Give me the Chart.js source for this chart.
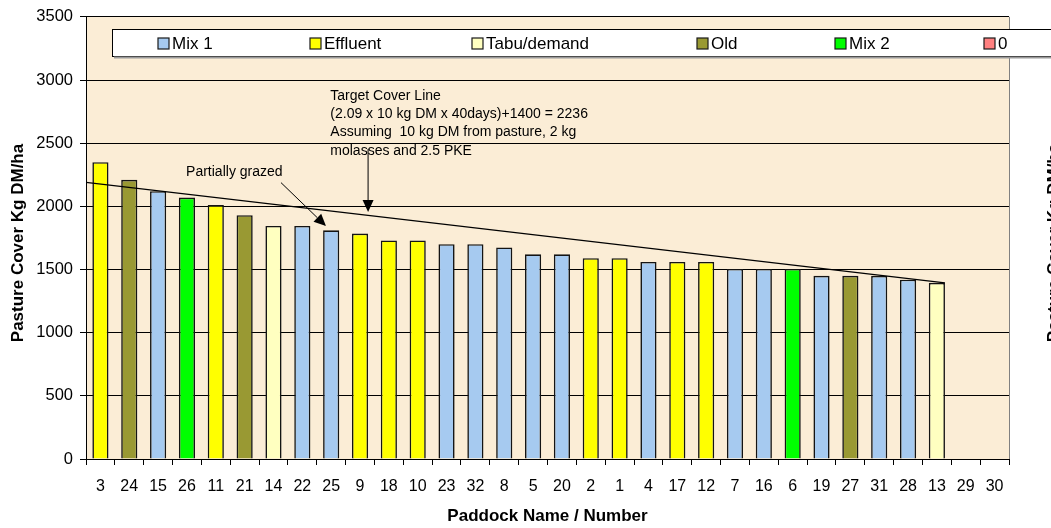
<!DOCTYPE html>
<html>
<head>
<meta charset="utf-8">
<script src="https://cdn.jsdelivr.net/npm/chart.js@4"></script>
<style>
    body { margin: 0; background: #ffffff; }
    #wrap { width: 1051px; height: 528px; }
</style>
</head>
<body>
<div id="wrap"><canvas id="coverChart" width="1051" height="528"></canvas></div>
<script>
// Paddocks, ranked by pasture cover
const paddocks = ['3', '24', '15', '26', '11', '21', '14', '22', '25', '9', '18', '10', '23', '32', '8', '5',
    '20', '2', '1', '4', '17', '12', '7', '16', '6', '19', '27', '31', '28', '13', '29', '30'];
const cover = [2350, 2210, 2120, 2070, 2010, 1930, 1845, 1845, 1810, 1785, 1730, 1730, 1700, 1700, 1675, 1620,
    1620, 1590, 1590, 1560, 1560, 1560, 1505, 1505, 1505, 1450, 1450, 1450, 1420, 1395, null, null];
const paddockGroup = ['Effluent', 'Old', 'Mix 1', 'Mix 2', 'Effluent', 'Old', 'Tabu/demand', 'Mix 1', 'Mix 1',
    'Effluent', 'Effluent', 'Effluent', 'Mix 1', 'Mix 1', 'Mix 1', 'Mix 1', 'Mix 1', 'Effluent', 'Effluent',
    'Mix 1', 'Effluent', 'Effluent', 'Mix 1', 'Mix 1', 'Mix 2', 'Mix 1', 'Old', 'Mix 1', 'Mix 1', 'Tabu/demand', '0', '0'];
const groups = ['Mix 1', 'Effluent', 'Tabu/demand', 'Old', 'Mix 2', '0'];

// target cover line, position along the paddock axis and cover value
const targetPos = [0, 29.78];
const targetCover = [2190, 1395];

const yTicks = [0, 500, 1000, 1500, 2000, 2500, 3000, 3500];

const groupColours = ['#a6caf0', '#ffff00', '#ffffc0', '#999933', '#00ff00', '#ff8080'];
const fontName = '"Liberation Sans", Arial, sans-serif';

function colourFor(g) {
    return groupColours[groups.indexOf(g)];
}

var datasets = [{
    label: 'Pasture cover',
    data: cover,
    backgroundColor: paddockGroup.map(colourFor),
    borderColor: '#141414',
    borderWidth: 1.6,
    borderSkipped: 'start',
    grouped: false,
    barPercentage: 0.56,
    categoryPercentage: 1.0,
    order: 2
}, {
    type: 'line',
    label: 'Target',
    xAxisID: 'xl',
    data: targetPos.map(function (p, i) { return { x: p, y: targetCover[i] }; }),
    borderColor: '#000000',
    borderWidth: 1.3,
    pointRadius: 0,
    fill: false,
    order: 1
}];

function arrow(ctx, x1, y1, x2, y2) {
    var ang = Math.atan2(y2 - y1, x2 - x1);
    var len = 12, half = 5.5;
    var bx = x2 - len * Math.cos(ang), by = y2 - len * Math.sin(ang);
    ctx.beginPath();
    ctx.moveTo(x1, y1);
    ctx.lineTo(bx, by);
    ctx.stroke();
    ctx.beginPath();
    ctx.moveTo(x2, y2);
    ctx.lineTo(bx + half * Math.sin(ang), by - half * Math.cos(ang));
    ctx.lineTo(bx - half * Math.sin(ang), by + half * Math.cos(ang));
    ctx.closePath();
    ctx.fill();
}

const paperPlugin = {
    id: 'paper',
    beforeDraw: function (chart) {
        var ctx = chart.ctx, a = chart.chartArea;
        ctx.save();
        ctx.fillStyle = '#ffffff';
        ctx.fillRect(0, 0, chart.width, chart.height);
        ctx.fillStyle = '#fbedd6';
        ctx.fillRect(a.left, a.top, a.right - a.left, a.bottom - a.top);
        ctx.restore();
    },
    afterDraw: function (chart) {
        var ctx = chart.ctx, a = chart.chartArea;
        var xl = chart.scales.xl, y = chart.scales.y;
        ctx.save();

        // plot border, right side
        ctx.strokeStyle = '#808080';
        ctx.lineWidth = 1;
        ctx.beginPath();
        ctx.moveTo(a.right + 0.5, a.top);
        ctx.lineTo(a.right + 0.5, a.bottom);
        ctx.stroke();

        // legend box
        ctx.fillStyle = '#ffffff';
        ctx.fillRect(112, 29.5, 960, 27);
        ctx.strokeStyle = '#000000';
        ctx.strokeRect(112.5, 29.5, 960, 27);
        ctx.strokeStyle = '#9a9a9a';
        ctx.lineWidth = 2;
        ctx.beginPath();
        ctx.moveTo(114, 57.5);
        ctx.lineTo(1060, 57.5);
        ctx.stroke();
        var legendX = [158, 310, 472, 697, 835, 984];
        ctx.font = '17px ' + fontName;
        ctx.textBaseline = 'middle';
        ctx.textAlign = 'left';
        ctx.lineWidth = 1.2;
        groups.forEach(function (g, i) {
            ctx.fillStyle = groupColours[i];
            ctx.fillRect(legendX[i], 38, 11, 11);
            ctx.strokeStyle = '#1a1a1a';
            ctx.strokeRect(legendX[i], 38, 11, 11);
            ctx.fillStyle = '#000000';
            ctx.fillText(g, legendX[i] + 14, 44);
        });

        // annotations
        ctx.fillStyle = '#000000';
        ctx.strokeStyle = '#000000';
        ctx.lineWidth = 1;
        ctx.font = '14px ' + fontName;
        ctx.textBaseline = 'alphabetic';
        ctx.fillText('Partially grazed', xl.getPixelForValue(3.47), y.getPixelForValue(2244));
        arrow(ctx, xl.getPixelForValue(6.76), y.getPixelForValue(2188),
            xl.getPixelForValue(8.32), y.getPixelForValue(1844));

        var noteLines = ['Target Cover Line', '(2.09 x 10 kg DM x 40days)+1400 = 2236',
            'Assuming  10 kg DM from pasture, 2 kg', 'molasses and 2.5 PKE'];
        var nx = xl.getPixelForValue(8.47), ny = y.getPixelForValue(2842);
        noteLines.forEach(function (t, i) {
            ctx.fillText(t, nx, ny + i * 18.2);
        });
        arrow(ctx, xl.getPixelForValue(9.78), y.getPixelForValue(2455),
            xl.getPixelForValue(9.78), y.getPixelForValue(1955));

        // axis titles
        ctx.font = 'bold 17px ' + fontName;
        ctx.textAlign = 'center';
        ctx.fillText('Paddock Name / Number', (a.left + a.right) / 2, 521);
        ctx.translate(23, 243);
        ctx.rotate(-Math.PI / 2);
        ctx.fillText('Pasture Cover Kg DM/ha', 0, 0);
        ctx.setTransform(1, 0, 0, 1, 0, 0);
        ctx.translate(1059, 243);
        ctx.rotate(-Math.PI / 2);
        ctx.fillText('Pasture Cover Kg DM/ha', 0, 0);
        ctx.restore();
    }
};

document.addEventListener('DOMContentLoaded', function () {
    var ctx = document.getElementById('coverChart').getContext('2d');
    new Chart(ctx, {
        type: 'bar',
        data: { labels: paddocks, datasets: datasets },
        options: {
            responsive: false,
            animation: false,
            devicePixelRatio: 1,
            layout: { padding: { left: 0, right: 42, top: 11, bottom: 0 } },
            plugins: {
                legend: { display: false },
                tooltip: { enabled: false }
            },
            scales: {
                x: {
                    type: 'category',
                    offset: true,
                    grid: { drawOnChartArea: false, offset: true, color: '#000000', tickLength: 6 },
                    border: { color: '#000000', width: 1 },
                    ticks: {
                        color: '#000000', font: { family: fontName, size: 16 },
                        maxRotation: 0, autoSkip: false, padding: 12
                    },
                    afterFit: function (s) { s.height = 69; }
                },
                xl: {
                    type: 'linear',
                    display: false,
                    offset: false,
                    grid: { offset: false },
                    min: 0,
                    max: 32
                },
                y: {
                    min: 0,
                    max: 3500,
                    afterBuildTicks: function (s) { s.ticks = yTicks.map(function (v) { return { value: v }; }); },
                    grid: { color: '#000000', lineWidth: 1, tickLength: 6 },
                    border: { color: '#000000', width: 1 },
                    ticks: {
                        color: '#000000', font: { family: fontName, size: 16.5 }, padding: 7,
                        callback: function (v) { return String(v); }
                    },
                    afterFit: function (s) { s.width = 86; }
                }
            }
        },
        plugins: [paperPlugin]
    });
});
</script>
</body>
</html>
